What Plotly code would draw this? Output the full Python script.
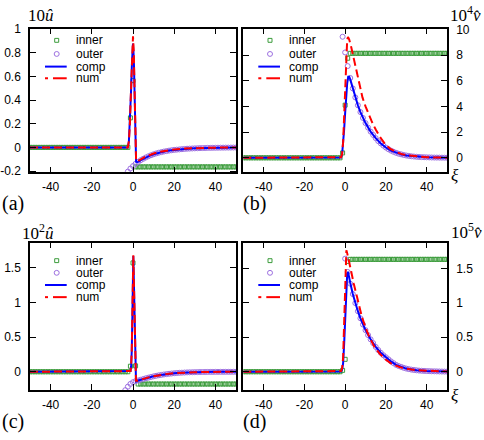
import plotly.graph_objects as go

W, H = 484, 440

XI_TICKS = [-40, -20, 0, 20, 40]
XI_TICK_TEXT = ["-40", "-20", "0", "20", "40"]

# sampling grid of the asymptotic (marker) solutions
XI_GRID = [-50.0, -48.75, -47.5, -46.25, -45.0, -43.75, -42.5, -41.25, -40.0, -38.75,
           -37.5, -36.25, -35.0, -33.75, -32.5, -31.25, -30.0, -28.75, -27.5, -26.25,
           -25.0, -23.75, -22.5, -21.25, -20.0, -18.75, -17.5, -16.25, -15.0, -13.75,
           -12.5, -11.25, -10.0, -8.75, -7.5, -6.25, -5.0, -3.75, -2.5, -1.25,
           0.0, 1.25, 2.5, 3.75, 5.0, 6.25, 7.5, 8.75, 10.0, 11.25,
           12.5, 13.75, 15.0, 16.25, 17.5, 18.75, 20.0, 21.25, 22.5, 23.75,
           25.0, 26.25, 27.5, 28.75, 30.0, 31.25, 32.5, 33.75, 35.0, 36.25,
           37.5, 38.75, 40.0, 41.25, 42.5, 43.75, 45.0, 46.25, 47.5, 48.75,
           50.0]

# ---------------- panel (a): 10 u ----------------
INNER_A = [0, 0, 0, 0, 0, 0, 0, 0, 0, 0,
           0, 0, 0, 0, 0, 0, 0, 0, 0, 0,
           0, 0, 0, 0, 0, 0, 0, 0, 0, 0,
           0, 0, 0, 0, 0, 0, 0, 0, 0,
           0.25, 0.565,
           -0.165, -0.165, -0.165, -0.165, -0.165, -0.165, -0.165, -0.165, -0.165, -0.165,
           -0.165, -0.165, -0.165, -0.165, -0.165, -0.165, -0.165, -0.165, -0.165, -0.165,
           -0.165, -0.165, -0.165, -0.165, -0.165, -0.165, -0.165, -0.165, -0.165, -0.165,
           -0.165, -0.165, -0.165, -0.165, -0.165, -0.165, -0.165, -0.165, -0.165, -0.165]
OUTER_A = [-0.205, -0.179, -0.158, -0.139, -0.123, -0.108, -0.096, -0.085, -0.075, -0.066,
           -0.058, -0.051, -0.045, -0.040, -0.035, -0.031, -0.027, -0.024, -0.021, -0.019,
           -0.017, -0.015, -0.013, -0.011, -0.010, -0.009, -0.008, -0.007, -0.006, -0.0055,
           -0.005, -0.004, -0.0037, -0.0033, -0.003, -0.0026, -0.0023, -0.002, -0.0018, -0.0016,
           -0.0014, -0.0012, -0.001]
COMP_A_X = [-50, -2.5, -2, -1.5, -1, -0.5, 0, 0.4, 0.8, 1.2, 1.5, 2, 2.5, 3.75, 5, 6.25, 7.5,
            8.75, 10, 12.5, 15, 17.5, 20, 22.5, 25, 30, 35, 40, 45, 50]
COMP_A = [0, 0, 0.05, 0.2, 0.45, 0.72, 0.88, 0.75, 0.35, 0.0, -0.12, -0.125, -0.123, -0.108,
          -0.096, -0.085, -0.075, -0.066, -0.058, -0.045, -0.035, -0.027, -0.021, -0.017,
          -0.013, -0.008, -0.005, -0.003, -0.0018, -0.001]
NUM_A_X = [-50, -2.5, -2, -1.5, -1, -0.5, 0, 0.4, 0.8, 1.2, 1.5, 2, 3, 4, 6, 8, 10, 13, 16,
           20, 25, 30, 35, 40, 50]
NUM_A = [0, 0, 0.05, 0.2, 0.47, 0.77, 0.94, 0.8, 0.36, -0.01, -0.11, -0.12, -0.112, -0.1,
         -0.08, -0.064, -0.052, -0.038, -0.028, -0.018, -0.01, -0.006, -0.004, -0.002, 0]

# ---------------- panel (b): 10^4 v ----------------
INNER_B = [0, 0, 0, 0, 0, 0, 0, 0, 0, 0,
           0, 0, 0, 0, 0, 0, 0, 0, 0, 0,
           0, 0, 0, 0, 0, 0, 0, 0, 0, 0,
           0, 0, 0, 0, 0, 0, 0, 0, 0,
           0.38, 4.1, 7.75,
           8.13, 8.13, 8.13, 8.13, 8.13, 8.13, 8.13, 8.13, 8.13, 8.13,
           8.13, 8.13, 8.13, 8.13, 8.13, 8.13, 8.13, 8.13, 8.13, 8.13,
           8.13, 8.13, 8.13, 8.13, 8.13, 8.13, 8.13, 8.13, 8.13, 8.13,
           8.13, 8.13, 8.13, 8.13, 8.13, 8.13, 8.13, 8.13, 8.13]
OUTER_B = [9.42, 8.2, 7.14, 6.21, 5.40, 4.70, 4.09, 3.56, 3.10, 2.70,
           2.35, 2.04, 1.78, 1.53, 1.3, 1.12, 0.95, 0.8, 0.67, 0.56,
           0.47, 0.39, 0.32, 0.27, 0.22, 0.18, 0.15, 0.12, 0.1, 0.08,
           0.067, 0.055, 0.046, 0.038, 0.032, 0.026, 0.022, 0.018, 0.015, 0.012,
           0.01, 0.008]
COMP_B_X = [-50, -2.5, -2, -1.5, -1, -0.5, 0, 0.5, 1, 1.5, 2, 2.5, 3.75, 5, 6.25, 7.5, 8.75,
            10, 12.5, 15, 17.5, 20, 22.5, 25, 27.5, 30, 35, 40, 45, 50]
COMP_B = [0, 0, 0.03, 0.25, 1.0, 2.2, 3.5, 4.8, 5.8, 6.3, 6.3, 6.1, 5.4, 4.7, 4.09, 3.56,
          3.1, 2.7, 2.04, 1.53, 1.12, 0.8, 0.56, 0.39, 0.27, 0.18, 0.08, 0.038, 0.018, 0.008]
NUM_B_X = [-50, -2.5, -2, -1.5, -1, -0.5, 0, 0.5, 1, 1.4, 2, 3, 4, 5, 5.8, 7, 8.5, 10, 11.5,
           13, 15, 17, 19.7, 22, 25, 28, 31, 35, 40, 45, 50]
NUM_B = [0, 0, 0.05, 0.3, 1.2, 3.2, 5.8, 8.0, 9.2, 9.4, 9.2, 8.6, 7.9, 7.1, 6.4, 5.6, 4.7,
         4.0, 3.4, 2.85, 2.2, 1.65, 1.05, 0.72, 0.45, 0.28, 0.18, 0.1, 0.05, 0.025, 0.012]

# ---------------- panel (c): 10^2 u ----------------
INNER_C = [0, 0, 0, 0, 0, 0, 0, 0, 0, 0,
           0, 0, 0, 0, 0, 0, 0, 0, 0, 0,
           0, 0, 0, 0, 0, 0, 0, 0, 0, 0,
           0, 0, 0, 0, 0, 0, 0, 0, 0,
           0.08, 1.57, 0.085,
           -0.177, -0.177, -0.177, -0.177, -0.177, -0.177, -0.177, -0.177, -0.177, -0.177,
           -0.177, -0.177, -0.177, -0.177, -0.177, -0.177, -0.177, -0.177, -0.177, -0.177,
           -0.177, -0.177, -0.177, -0.177, -0.177, -0.177, -0.177, -0.177, -0.177, -0.177,
           -0.177, -0.177, -0.177, -0.177, -0.177, -0.177, -0.177, -0.177, -0.177]
OUTER_C = [-0.265, -0.215, -0.175, -0.15, -0.135, -0.125, -0.115, -0.104, -0.094, -0.084,
           -0.075, -0.066, -0.058, -0.051, -0.045, -0.039, -0.034, -0.029, -0.025, -0.021,
           -0.018, -0.015, -0.013, -0.011, -0.009, -0.008, -0.007, -0.006, -0.005, -0.004,
           -0.0035, -0.003, -0.0025, -0.002, -0.002, -0.0015, -0.0013, -0.0011, -0.001, -0.0009,
           -0.0008, -0.0007, -0.0006, -0.0005]
COMP_C_X = [-50, -1.5, -1.2, -0.9, -0.6, -0.3, 0, 0.15, 0.4, 0.7, 1, 1.45, 2, 2.5, 3.75, 5,
            6.25, 7.5, 10, 12.5, 15, 17.5, 20, 22.5, 25, 30, 35, 40, 50]
COMP_C = [0, 0, 0.01, 0.08, 0.3, 0.8, 1.45, 1.67, 1.35, 0.8, 0.3, -0.14, -0.135, -0.125,
          -0.115, -0.104, -0.094, -0.084, -0.066, -0.051, -0.039, -0.029, -0.021, -0.015,
          -0.011, -0.006, -0.003, -0.0015, -0.0005]
NUM_C_X = [-50, -1.5, -1.2, -0.9, -0.6, -0.3, 0, 0.15, 0.4, 0.7, 1, 1.45, 2, 3, 4, 6, 8, 10,
           13, 16, 20, 25, 30, 35, 40, 50]
NUM_C = [0, 0, 0.01, 0.09, 0.32, 0.85, 1.5, 1.68, 1.36, 0.8, 0.3, -0.13, -0.13, -0.12, -0.11,
         -0.092, -0.077, -0.064, -0.047, -0.034, -0.021, -0.011, -0.006, -0.003, -0.0015, 0]

# ---------------- panel (d): 10^5 v ----------------
INNER_D = [0, 0, 0, 0, 0, 0, 0, 0, 0, 0,
           0, 0, 0, 0, 0, 0, 0, 0, 0, 0,
           0, 0, 0, 0, 0, 0, 0, 0, 0, 0,
           0, 0, 0, 0, 0, 0, 0, 0, 0,
           0.02, 0.18, 1.6,
           1.63, 1.63, 1.63, 1.63, 1.63, 1.63, 1.63, 1.63, 1.63, 1.63,
           1.63, 1.63, 1.63, 1.63, 1.63, 1.63, 1.63, 1.63, 1.63, 1.63,
           1.63, 1.63, 1.63, 1.63, 1.63, 1.63, 1.63, 1.63, 1.63, 1.63,
           1.63, 1.63, 1.63, 1.63, 1.63, 1.63, 1.63, 1.63, 1.63]
OUTER_D = [1.64, 1.447, 1.277, 1.127, 0.995, 0.878, 0.775, 0.684, 0.603, 0.532,
           0.47, 0.415, 0.36, 0.315, 0.275, 0.24, 0.21, 0.18, 0.15, 0.125,
           0.1, 0.083, 0.07, 0.057, 0.046, 0.038, 0.031, 0.026, 0.021, 0.017,
           0.014, 0.012, 0.01, 0.0085, 0.007, 0.006, 0.005, 0.004, 0.003, 0.0025,
           0.002]
COMP_D_X = [-50, -2.5, -2, -1.5, -1, -0.5, 0, 0.5, 1, 1.4, 2, 2.5, 3.75, 5, 6.25, 7.5, 10,
            12.5, 15, 17.5, 20, 22.5, 25, 30, 35, 40, 50]
COMP_D = [0, 0, 0.005, 0.03, 0.12, 0.4, 0.85, 1.25, 1.42, 1.45, 1.38, 1.29, 1.127, 0.995,
          0.878, 0.775, 0.603, 0.47, 0.36, 0.275, 0.21, 0.15, 0.1, 0.046, 0.021, 0.01, 0.002]
NUM_D_X = [-50, -2.5, -2, -1.5, -1, -0.5, 0, 0.3, 0.6, 1, 2, 3, 4.2, 6, 8.2, 10, 11.5, 14, 17,
           19.7, 23, 27, 31, 36, 42, 50]
NUM_D = [0, 0, 0.01, 0.05, 0.2, 0.7, 1.4, 1.7, 1.76, 1.72, 1.6, 1.45, 1.28, 1.05, 0.8, 0.64,
         0.53, 0.38, 0.26, 0.18, 0.11, 0.065, 0.038, 0.02, 0.01, 0.004]

for arr in (INNER_A, INNER_B, INNER_C, INNER_D):
    assert len(arr) == len(XI_GRID), len(arr)

SERIES_NAMES = ["inner", "outer", "comp", "num"]
GREEN = "#3c9c3c"
PURPLE = "#9c6fe0"
BLUE = "#0000ff"
RED = "#ff0000"

panels = [
    dict(box=(30, 23.3, 236, 171), yr=[-0.211, 1.005],
         yt=[-0.2, 0, 0.2, 0.4, 0.6, 0.8, 1], ytt=["-0.2", "0", "0.2", "0.4", "0.6", "0.8", "1"],
         side="left", inner=INNER_A, outer=OUTER_A, cx=COMP_A_X, cy=COMP_A, nx=NUM_A_X, ny=NUM_A,
         ylab="10<i>û</i>", ylab_pos=(27, 10), tag="(a)", tag_pos=(1, 203), xi=False,
         rows=[12, 26, 39, 51]),
    dict(box=(243.3, 23.3, 447, 171), yr=[-1.13, 10.05],
         yt=[0, 2, 4, 6, 8, 10], ytt=["0", "2", "4", "6", "8", "10"],
         side="right", inner=INNER_B, outer=OUTER_B, cx=COMP_B_X, cy=COMP_B, nx=NUM_B_X, ny=NUM_B,
         ylab="10<sup>4</sup><i>v\u0302</i>", ylab_pos=(449, 8), tag="(b)", tag_pos=(242, 203),
         xi=True, xi_pos=(455, 174), rows=[12, 26, 39, 51]),
    dict(box=(30, 243.3, 236, 394.7), yr=[-0.262, 1.862],
         yt=[0, 0.5, 1, 1.5], ytt=["0", "0.5", "1", "1.5"],
         side="left", inner=INNER_C, outer=OUTER_C, cx=COMP_C_X, cy=COMP_C, nx=NUM_C_X, ny=NUM_C,
         ylab="10<sup>2</sup><i>û</i>", ylab_pos=(21, 232), tag="(c)", tag_pos=(1, 427), xi=False,
         rows=[18.5, 31, 43.5, 56]),
    dict(box=(243.3, 243.3, 447, 394.7), yr=[-0.264, 1.872],
         yt=[0, 0.5, 1, 1.5], ytt=["0", "0.5", "1", "1.5"],
         side="right", inner=INNER_D, outer=OUTER_D, cx=COMP_D_X, cy=COMP_D, nx=NUM_D_X, ny=NUM_D,
         ylab="10<sup>5</sup><i>v\u0302</i>", ylab_pos=(450, 231), tag="(d)", tag_pos=(242, 427),
         xi=True, xi_pos=(455, 400), rows=[18.5, 31, 43.5, 56]),
]


def px(x):
    return x / W


def py(y):
    return 1 - y / H


fig = go.Figure()
shapes = []
annotations = []
TICKFONT = dict(family="Liberation Sans, Arial, sans-serif", size=12, color="black")
MATHFONT = dict(family="Liberation Serif, DejaVu Serif, serif", size=17, color="black")
TAGFONT = dict(family="Liberation Serif, DejaVu Serif, serif", size=20, color="black")

for i, p in enumerate(panels, start=1):
    xa = "x" if i == 1 else f"x{i}"
    ya = "y" if i == 1 else f"y{i}"
    x0, t, x1, b = p["box"]
    outer_x = XI_GRID[len(XI_GRID) - len(p["outer"]):]

    fig.add_trace(go.Scatter(x=XI_GRID, y=p["inner"], mode="markers", xaxis=xa, yaxis=ya,
                             name="inner", showlegend=False,
                             marker=dict(symbol="square-open", size=4, color=GREEN,
                                         line=dict(width=1, color=GREEN))))
    fig.add_trace(go.Scatter(x=outer_x, y=p["outer"], mode="markers", xaxis=xa, yaxis=ya,
                             name="outer", showlegend=False,
                             marker=dict(symbol="circle-open", size=5, color=PURPLE,
                                         line=dict(width=1, color=PURPLE))))
    fig.add_trace(go.Scatter(x=p["cx"], y=p["cy"], mode="lines", xaxis=xa, yaxis=ya,
                             name="comp", showlegend=False,
                             line=dict(color=BLUE, width=2)))
    fig.add_trace(go.Scatter(x=p["nx"], y=p["ny"], mode="lines", xaxis=xa, yaxis=ya,
                             name="num", showlegend=False,
                             line=dict(color=RED, width=2, dash="8px,4px")))

    common = dict(showline=True, linewidth=1.5, linecolor="black", mirror="allticks",
                  ticks="inside", ticklen=6, tickwidth=1, tickcolor="black",
                  showgrid=False, zeroline=False, tickfont=TICKFONT)
    fig.update_layout(**{
        ("xaxis" if i == 1 else f"xaxis{i}"): dict(
            domain=[px(x0), px(x1)], range=[-50, 50], anchor=ya,
            tickvals=XI_TICKS, ticktext=XI_TICK_TEXT, ticklabelstandoff=3, **common),
        ("yaxis" if i == 1 else f"yaxis{i}"): dict(
            domain=[py(b), py(t)], range=p["yr"], anchor=xa, side=p["side"],
            tickvals=p["yt"], ticktext=p["ytt"], ticklabelstandoff=5, **common),
    })

    # legend (drawn by hand, gnuplot style)
    r = p["rows"]
    mx = x0 + 26.7
    yy = t + r[0]
    shapes.append(dict(type="rect", xref="paper", yref="paper",
                       x0=px(mx - 2), x1=px(mx + 2), y0=py(yy + 2), y1=py(yy - 2),
                       line=dict(color=GREEN, width=1)))
    yy = t + r[1]
    shapes.append(dict(type="circle", xref="paper", yref="paper",
                       x0=px(mx - 2.5), x1=px(mx + 2.5), y0=py(yy + 2.5), y1=py(yy - 2.5),
                       line=dict(color=PURPLE, width=1)))
    yy = t + r[2]
    shapes.append(dict(type="line", xref="paper", yref="paper",
                       x0=px(x0 + 15), x1=px(x0 + 36.7), y0=py(yy), y1=py(yy),
                       line=dict(color=BLUE, width=2)))
    yy = t + r[3]
    shapes.append(dict(type="line", xref="paper", yref="paper",
                       x0=px(x0 + 15), x1=px(x0 + 18), y0=py(yy), y1=py(yy),
                       line=dict(color=RED, width=2)))
    shapes.append(dict(type="line", xref="paper", yref="paper",
                       x0=px(x0 + 23), x1=px(x0 + 36.7), y0=py(yy), y1=py(yy),
                       line=dict(color=RED, width=2)))
    for name, off in zip(SERIES_NAMES, r):
        annotations.append(dict(text=name, xref="paper", yref="paper", x=px(x0 + 45),
                                y=py(t + off), xanchor="left", yanchor="middle",
                                showarrow=False, font=TICKFONT, borderpad=0))

    annotations.append(dict(text=p["ylab"], xref="paper", yref="paper",
                            x=px(p["ylab_pos"][0]), y=py(p["ylab_pos"][1]),
                            xanchor="left", yanchor="middle", showarrow=False, font=MATHFONT,
                            borderpad=0))
    annotations.append(dict(text=p["tag"], xref="paper", yref="paper",
                            x=px(p["tag_pos"][0]), y=py(p["tag_pos"][1]),
                            xanchor="left", yanchor="middle", showarrow=False, font=TAGFONT,
                            borderpad=0))
    if p["xi"]:
        annotations.append(dict(text="<i>ξ</i>", xref="paper", yref="paper",
                                x=px(p["xi_pos"][0]), y=py(p["xi_pos"][1]),
                                xanchor="center", yanchor="middle", showarrow=False,
                                font=MATHFONT, borderpad=0))

fig.update_layout(width=W, height=H, margin=dict(l=0, r=0, t=0, b=0),
                  paper_bgcolor="white", plot_bgcolor="white", showlegend=False,
                  shapes=shapes, annotations=annotations)

fig.write_html("out.html")
